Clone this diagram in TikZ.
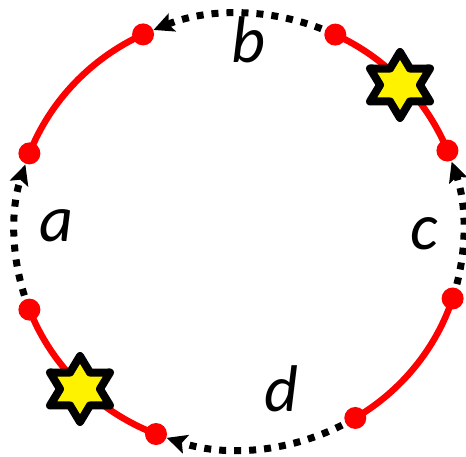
\documentclass[tikz,border=0pt]{standalone}
\usepackage{fontspec}
\setmainfont{Carlito}
\usetikzlibrary{arrows.meta}
\begin{document}
\begin{tikzpicture}[x=1pt,y=1pt,
  redarc/.style={red, line width=6.5pt},
  dotarc/.style={black, line width=7pt, dash pattern=on 7pt off 8pt,
    -{Stealth[length=20pt,width=19pt,inset=4pt]}},
  reddot/.style={circle, fill=red, inner sep=0pt, minimum size=22pt},
  starshape/.style={fill=yellow, draw=black, line width=8pt, line join=round},
  lbl/.style={font=\fontsize{66}{68}\selectfont\itshape, anchor=base, inner sep=0pt}]
\useasboundingbox (0,0) rectangle (466,457);
\def\cx{239}\def\cy{225.5}\def\rx{224.5}\def\ry{218}
% angles of the dots
\def\aA{115.3}\def\aB{64.6}\def\aC{21.8}\def\aD{-17.9}
\def\aE{-58.8}\def\aF{-111.7}\def\aG{-159}\def\aH{159}
\foreach \n/\a in {A/\aA,B/\aB,C/\aC,D/\aD,E/\aE,F/\aF,G/\aG,H/\aH}{
  \coordinate (P\n) at ({\cx+\rx*cos(\a)},{\cy+\ry*sin(\a)});
}
% dotted arcs with arrows
\draw[dotarc] (PB) arc[start angle=\aB, end angle=\aA-2.9, x radius=\rx, y radius=\ry];
\draw[dotarc] (PD) arc[start angle=\aD, end angle=\aC-3.1, x radius=\rx, y radius=\ry];
\draw[dotarc] (PE) arc[start angle=\aE, end angle=\aF+2.9, x radius=\rx, y radius=\ry];
\draw[dotarc] (PG) arc[start angle=360+\aG, end angle=\aH+3.1, x radius=\rx, y radius=\ry];
% red arcs
\draw[redarc] (PA) arc[start angle=\aA, end angle=\aH, x radius=\rx, y radius=\ry];
\draw[redarc] (PC) arc[start angle=\aC, end angle=\aB, x radius=\rx, y radius=\ry];
\draw[redarc] (PF) arc[start angle=\aF, end angle=\aG, x radius=\rx, y radius=\ry];
\draw[redarc] (PE) arc[start angle=\aE, end angle=\aD, x radius=\rx, y radius=\ry];
% red dots
\foreach \n in {A,B,C,D,E,F,G,H}{
  \node[reddot] (D\n) at (P\n) {};
}
% stars
\foreach \sx/\sy in {400/372, 80/68}{
  \draw[starshape, shift={(\sx,\sy)}, xscale=1.05] (90:33)
    \foreach \k in {1,...,11}{ -- ({90+30*\k}:{ifthenelse(mod(\k,2)==1,19,33)}) } -- cycle;
}
% labels
\node[lbl] (la) at (56,215) {a};
\node[lbl] (lb) at (248,394) {b};
\node[lbl] (lc) at (424,207) {c};
\node[lbl] (ld) at (281,45) {d};
\end{tikzpicture}
\end{document}
